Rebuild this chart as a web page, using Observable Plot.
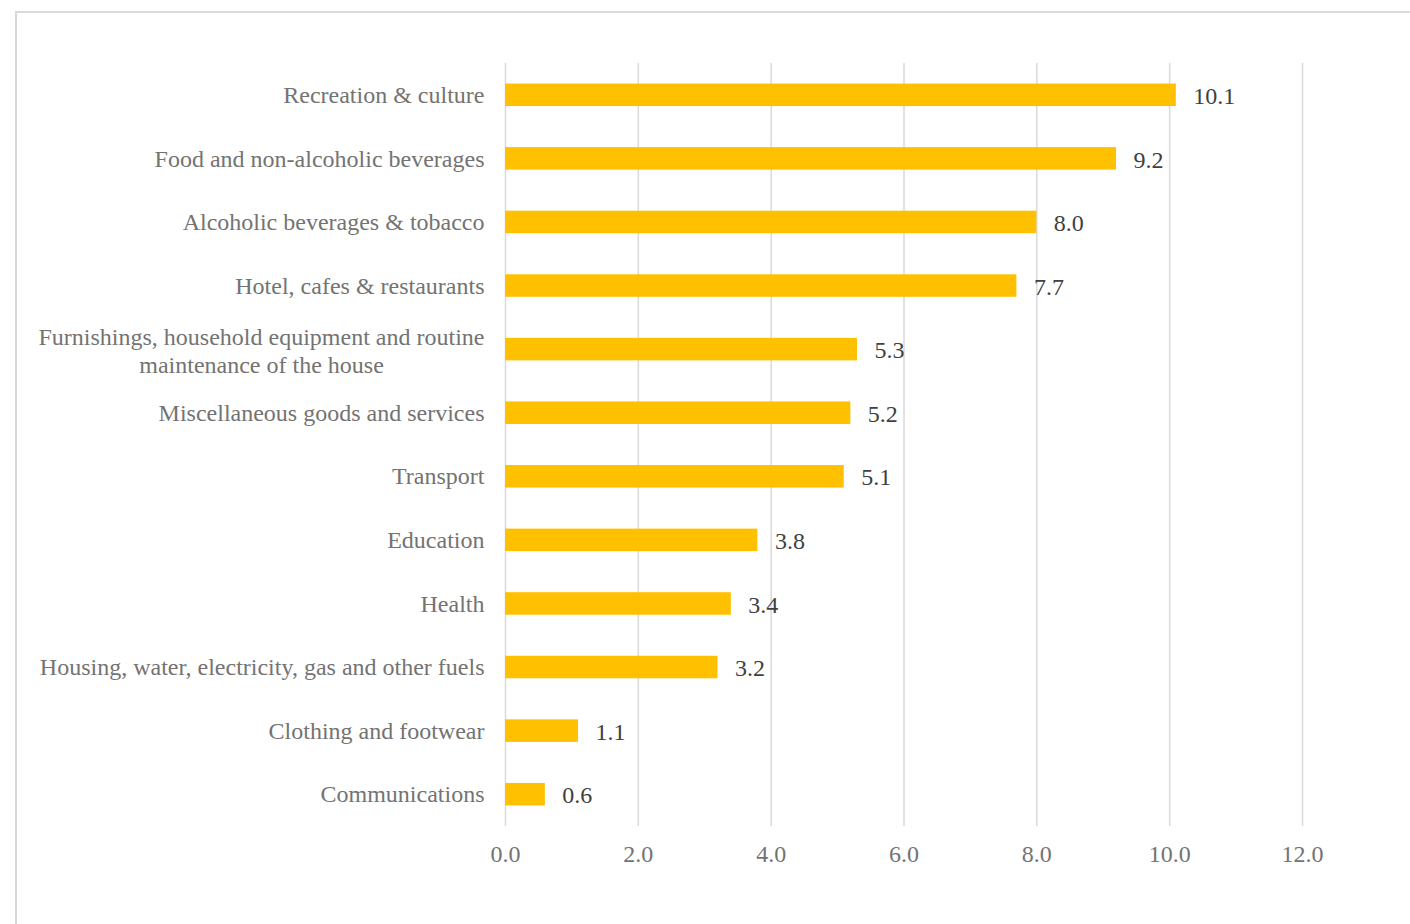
<!DOCTYPE html>
<html>
<head>
<meta charset="utf-8">
<script src="https://cdn.jsdelivr.net/npm/d3@7"></script>
<script src="https://cdn.jsdelivr.net/npm/@observablehq/plot@0.6"></script>
<style>
  html, body { margin: 0; padding: 0; background: #fff; overflow: hidden; }
  #frame { position: absolute; left: 15px; top: 11px; width: 1500px; height: 1000px;
           border-left: 2px solid #d9d9d9; border-top: 2px solid #d9d9d9; box-sizing: border-box; }
  #chart { position: absolute; left: 0; top: 0; }
</style>
</head>
<body>
<div id="frame"></div>
<div id="chart"></div>
<script>
const categories = [
  "Recreation & culture",
  "Food and non-alcoholic beverages",
  "Alcoholic beverages & tobacco",
  "Hotel, cafes & restaurants",
  "Furnishings, household equipment and routine\nmaintenance of the house",
  "Miscellaneous goods and services",
  "Transport",
  "Education",
  "Health",
  "Housing, water, electricity, gas and other fuels",
  "Clothing and footwear",
  "Communications"
];
const values = [10.1, 9.2, 8.0, 7.7, 5.3, 5.2, 5.1, 3.8, 3.4, 3.2, 1.1, 0.6];
const xTicks = [0, 2, 4, 6, 8, 10, 12];

const data = categories.map((c, i) => ({category: c, value: values[i]}));
const multi = data.filter(d => d.category.includes("\n"));
const single = data.filter(d => !d.category.includes("\n"));

const font = "'Liberation Serif', 'Times New Roman', serif";
const labelGray = "#737373";

const chart = Plot.plot({
  width: 1410,
  height: 924,
  marginLeft: 505,
  marginRight: 108,
  marginTop: 63,
  marginBottom: 98,
  style: {fontFamily: font, fontSize: "24px", color: labelGray, background: "transparent"},
  x: {domain: [0, 12], ticks: xTicks, tickFormat: d => d.toFixed(1), tickSize: 0, tickPadding: 18, label: null},
  y: {domain: categories, paddingInner: 0.646, paddingOuter: 0.323, round: false, axis: null, label: null},
  marks: [
    Plot.gridX(xTicks, {stroke: "#d9d9d9", strokeOpacity: 1, strokeWidth: 1.5}),
    Plot.barX(data, {x: "value", y: "category", fill: "#FFC000"}),
    Plot.text(data, {x: "value", y: "category", text: d => d.value.toFixed(1), textAnchor: "start", dx: 17, dy: 1, fill: "#404040", fontSize: 24}),
    Plot.text(single, {x: 0, y: "category", text: "category", textAnchor: "end", dx: -21, fill: labelGray, fontSize: 24}),
    Plot.text(multi, {x: 0, y: "category", text: "category", textAnchor: "middle", dx: -244, dy: 0, lineHeight: 1.17, fill: labelGray, fontSize: 24})
  ]
});
document.getElementById("chart").appendChild(chart);
</script>
</body>
</html>
